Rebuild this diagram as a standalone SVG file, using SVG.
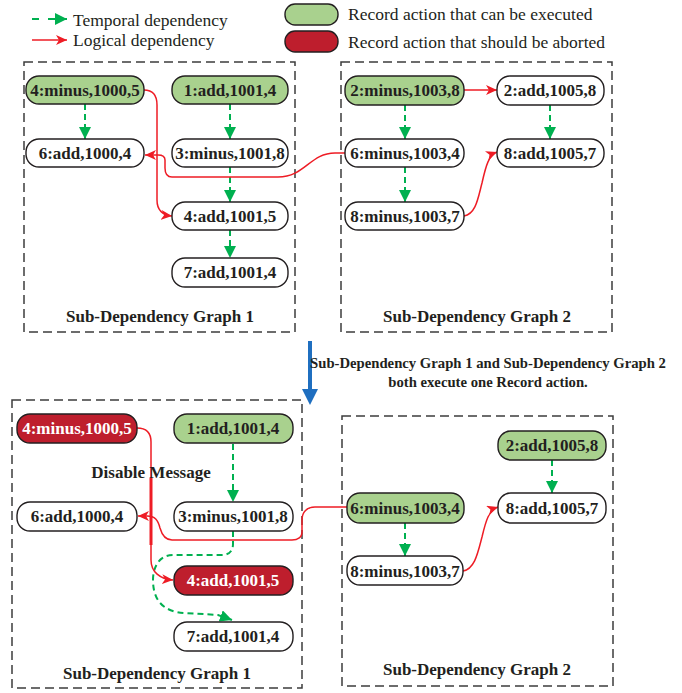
<svg xmlns="http://www.w3.org/2000/svg" width="682" height="693" viewBox="0 0 682 693">
<defs>
<marker id="gh" markerUnits="userSpaceOnUse" markerWidth="12" markerHeight="12" viewBox="0 0 12 12" refX="12" refY="6" orient="auto"><path d="M0,0 L12,6 L0,12 Z" fill="#00B050"/></marker>
<marker id="rh" markerUnits="userSpaceOnUse" markerWidth="11" markerHeight="10" viewBox="0 0 11 10" refX="11" refY="5" orient="auto"><path d="M0,0 L11,5 L0,10 L3,5 Z" fill="#EE1C25"/></marker>
</defs>
<style>
.box{fill:none;stroke:#3c3c3c;stroke-width:1.5;stroke-dasharray:9,5}
.n{fill:#fff;stroke:#231f20;stroke-width:1.4}
.ok{fill:#A9D18E;stroke:#231f20;stroke-width:1.4}
.bad{fill:#BE1E2D;stroke:#231f20;stroke-width:1.4}
.t{font-family:"Liberation Serif",serif;font-weight:bold;font-size:17px;fill:#231f20;text-anchor:middle}
.w{fill:#fff}
.lg{font-family:"Liberation Serif",serif;font-size:17.5px;fill:#231f20}
.g{fill:none;stroke:#00B050;stroke-width:2;stroke-dasharray:6,4;marker-end:url(#gh)}
.r{fill:none;stroke:#EE1C25;stroke-width:1.5;marker-end:url(#rh)}
</style>
<rect width="682" height="693" fill="#fff"/>
<g id="legend">
<line x1="32" y1="19" x2="67" y2="19" stroke="#00B050" stroke-width="2" stroke-dasharray="7,9" marker-end="url(#gh)"/>
<line x1="32" y1="40" x2="67" y2="40" stroke="#EE1C25" stroke-width="1.5" marker-end="url(#rh)"/>
<text class="lg" x="73" y="26">Temporal dependency</text>
<text class="lg" x="73" y="46">Logical dependency</text>
<rect class="ok" x="285" y="4" width="53" height="21" rx="10"/>
<rect class="bad" x="285" y="31" width="53" height="21" rx="10"/>
<text class="lg" x="348" y="20">Record action that can be executed</text>
<text class="lg" x="348" y="48">Record action that should be aborted</text>
</g>
<g id="top-graph1">
<rect class="box" x="24" y="62" width="271" height="270"/>
<text class="t" x="160" y="322">Sub-Dependency Graph 1</text>
</g>
<g id="top-graph2">
<rect class="box" x="341" y="62" width="271" height="270"/>
<text class="t" x="477" y="322">Sub-Dependency Graph 2</text>
</g>
<g id="connectors-top">
<path class="g" d="M85,104 L85,139"/>
<path class="g" d="M230,104 L230,139"/>
<path class="g" d="M230,167 L230,202"/>
<path class="g" d="M230,230 L230,258"/>
<path class="g" d="M405,105 L405,139"/>
<path class="g" d="M405,167 L405,202"/>
<path class="g" d="M550,105 L550,139"/>
<path class="r" d="M144,90 C152,90 157,95 157,105 L157,200 C157,210 162,215 172,216"/>
<path class="r" d="M345,153 L335,153 C310,153 305,177 278,177 L172,177 C166,177 165,173 165,168 L165,160 C165,156 162,155 158,155 L145,155"/>
<path class="r" d="M464,90 L497,90"/>
<path class="r" d="M464,216 C476,214 478,198 482,183 C486,165 489,155 497,152"/>
</g>
<g id="n-t-4minus"><rect class="ok" x="26" y="76" width="118" height="28" rx="13"/><text class="t" x="85" y="96">4:minus,1000,5</text></g>
<g id="n-t-1add"><rect class="ok" x="172" y="76" width="116" height="28" rx="13"/><text class="t" x="230" y="96">1:add,1001,4</text></g>
<g id="n-t-6add"><rect class="n" x="26" y="139" width="118" height="28" rx="13"/><text class="t" x="85" y="159">6:add,1000,4</text></g>
<g id="n-t-3minus"><rect class="n" x="172" y="139" width="116" height="28" rx="13"/><text class="t" x="230" y="159">3:minus,1001,8</text></g>
<g id="n-t-4add"><rect class="n" x="172" y="202" width="116" height="28" rx="13"/><text class="t" x="230" y="222">4:add,1001,5</text></g>
<g id="n-t-7add"><rect class="n" x="172" y="258" width="116" height="29" rx="13"/><text class="t" x="230" y="278">7:add,1001,4</text></g>
<g id="n-t-2minus"><rect class="ok" x="345" y="76" width="119" height="29" rx="13"/><text class="t" x="405" y="96">2:minus,1003,8</text></g>
<g id="n-t-2add"><rect class="n" x="497" y="76" width="107" height="29" rx="13"/><text class="t" x="550" y="96">2:add,1005,8</text></g>
<g id="n-t-6minus"><rect class="n" x="345" y="139" width="119" height="28" rx="13"/><text class="t" x="405" y="159">6:minus,1003,4</text></g>
<g id="n-t-8add"><rect class="n" x="497" y="139" width="107" height="28" rx="13"/><text class="t" x="550" y="159">8:add,1005,7</text></g>
<g id="n-t-8minus"><rect class="n" x="345" y="202" width="119" height="28" rx="13"/><text class="t" x="405" y="222">8:minus,1003,7</text></g>
<g id="transition">
<line x1="310" y1="341" x2="310" y2="392" stroke="#1F6FC0" stroke-width="4"/>
<path d="M302,389 L318,389 L310,405 Z" fill="#1F6FC0"/>
<text class="t" style="font-size:14.7px" x="488" y="368">Sub-Dependency Graph 1 and Sub-Dependency Graph 2</text>
<text class="t" style="font-size:14.7px" x="488" y="387">both execute one Record action.</text>
</g>
<g id="bottom-graph1">
<rect class="box" x="12" y="400" width="290" height="288"/>
<text class="t" x="157" y="679">Sub-Dependency Graph 1</text>
</g>
<g id="bottom-graph2">
<rect class="box" x="342" y="416" width="271" height="270"/>
<text class="t" x="477" y="675">Sub-Dependency Graph 2</text>
</g>
<g id="connectors-bottom">
<path class="g" d="M233,444 L233,502"/>
<path class="g" d="M233,531 L233,544 C233,551 229,555 222,555 L173,555 C160,555 153,566 153,580 C153,600 163,612 185,613 L218,615 L232,620"/>
<path class="g" d="M552,460 L552,493"/>
<path class="g" d="M405,523 L405,556"/>
<path class="r" d="M137,428 C146,428 151,433 151,442 L151,560 C151,572 160,579 173,580"/>
<line x1="151" y1="478" x2="151" y2="545" stroke="#EE1C25" stroke-width="3"/>
<path class="r" d="M347,507 L315,507 C307,507 302,512 302,520 L302,532 C302,537 298,540 292,540 L172,540 C165,540 162,535 160,528 C158,520 155,516 147,516 L138,516"/>
<path class="r" d="M463,571 C475,569 478,552 482,537 C486,520 489,510 498,507"/>
</g>
<g id="disable-label"><text class="t" x="151" y="478">Disable Message</text></g>
<g id="n-b-4minus"><rect class="bad" x="17" y="414" width="120" height="29" rx="13"/><text class="t w" x="77" y="434">4:minus,1000,5</text></g>
<g id="n-b-1add"><rect class="ok" x="174" y="414" width="119" height="29" rx="13"/><text class="t" x="233" y="434">1:add,1001,4</text></g>
<g id="n-b-6add"><rect class="n" x="17" y="502" width="120" height="29" rx="13"/><text class="t" x="77" y="522">6:add,1000,4</text></g>
<g id="n-b-3minus"><rect class="n" x="174" y="502" width="119" height="29" rx="13"/><text class="t" x="233" y="522">3:minus,1001,8</text></g>
<g id="n-b-4add"><rect class="bad" x="174" y="566" width="119" height="29" rx="13"/><text class="t w" x="233" y="586">4:add,1001,5</text></g>
<g id="n-b-7add"><rect class="n" x="174" y="622" width="119" height="29" rx="13"/><text class="t" x="233" y="642">7:add,1001,4</text></g>
<g id="n-b-2add"><rect class="ok" x="498" y="431" width="108" height="29" rx="13"/><text class="t" x="552" y="451">2:add,1005,8</text></g>
<g id="n-b-8add"><rect class="n" x="498" y="493" width="108" height="30" rx="13"/><text class="t" x="552" y="514">8:add,1005,7</text></g>
<g id="n-b-6minus"><rect class="ok" x="347" y="493" width="117" height="30" rx="13"/><text class="t" x="405" y="514">6:minus,1003,4</text></g>
<g id="n-b-8minus"><rect class="n" x="347" y="556" width="116" height="29" rx="13"/><text class="t" x="405" y="577">8:minus,1003,7</text></g>
</svg>
